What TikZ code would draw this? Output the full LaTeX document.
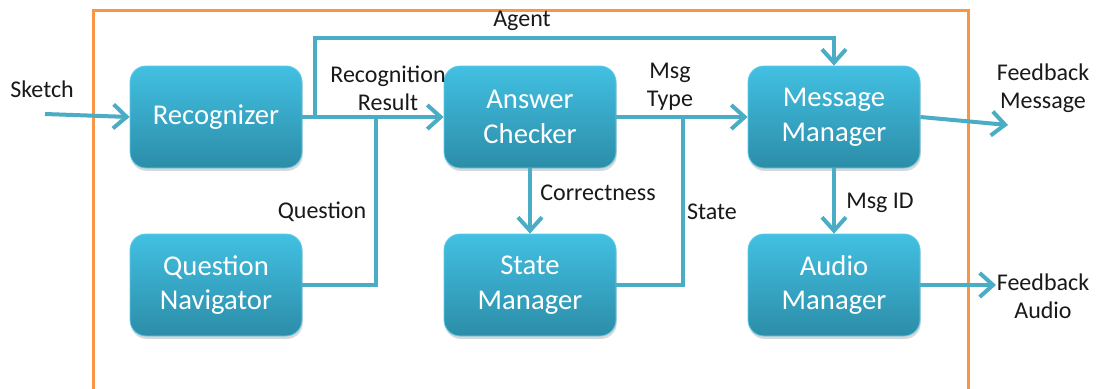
\documentclass[tikz,border=0pt]{standalone}
\usepackage{fontspec}
\setmainfont{Carlito}
\usetikzlibrary{arrows.meta,shadows}

\definecolor{boxtop}{RGB}{66,192,226}
\definecolor{boxbot}{RGB}{44,141,168}
\definecolor{boxedge}{RGB}{92,206,236}
\definecolor{wire}{RGB}{75,172,198}
\definecolor{frame}{RGB}{247,150,70}

\tikzset{
  module/.style={rounded corners=12pt, minimum width=129pt, minimum height=76.5pt,
    inner sep=0pt, align=center, text=white,
    font=\fontsize{21.5}{26}\selectfont,
    top color=boxtop, bottom color=boxbot, draw=boxedge, line width=0.6pt,
    drop shadow={opacity=0.3, shadow xshift=0.6pt, shadow yshift=-2.2pt}},
  lbl/.style={align=center, text=black!90, inner sep=0pt,
    font=\fontsize{18}{21}\selectfont},
  wireline/.style={draw=wire, line width=3pt},
  flow/.style={wireline, -{Straight Barb[length=10pt, width=18pt, line width=3pt]}},
}

\begin{document}
\begin{tikzpicture}[x=0.75pt, y=-0.75pt]
  \clip (0,0) rectangle (1100,389);
  \fill[white] (0,0) rectangle (1100,389);

  % agent boundary (open at the bottom)
  \draw[frame, line width=2.25pt] (93,395) -- (93,10) -- (968,10) -- (968,395);

  % modules
  \node[module] (rec) at (216,117) {Recognizer};
  \node[module] (qn)  at (216,285) {Question\\Navigator};
  \node[module] (ac)  at (530,117) {Answer\\Checker};
  \node[module] (sm)  at (530,285) {State\\Manager};
  \node[module] (mm)  at (834,117) {Message\\Manager};
  \node[module] (am)  at (834,285) {Audio\\Manager};

  % free ends and bends
  \coordinate (sketchin) at (45,114);
  \coordinate (fbm) at (1008,125);
  \coordinate (fba) at (996,285);
  \coordinate (topbend) at (315,38);
  \coordinate (qjoin) at (376,117);
  \coordinate (sjoin) at (683,117);

  % connectors
  \draw[flow] (sketchin) -- (rec.west);
  \draw[flow] (rec.east) -- (ac.west);
  \draw[flow] (rec.east) -| (topbend) -| (mm.north);
  \draw[wireline] (qn.east) -| (qjoin);
  \draw[flow] (ac.east) -- (mm.west);
  \draw[wireline] (sm.east) -| (sjoin);
  \draw[flow] (ac.south) -- (sm.north);
  \draw[flow] (mm.south) -- (am.north);
  \draw[flow] (mm.east) -- (fbm);
  \draw[flow] (am.east) -- (fba);

  % labels
  \node[lbl] (tsketch) at (42,89) {Sketch};
  \node[lbl] (tagent) at (522,21) {Agent};
  \node[lbl] (trec) at (388,88) {Recognition\\Result};
  \node[lbl] (tmsgtype) at (670,87) {Msg\\Type};
  \node[lbl] (tquest) at (322,212) {Question};
  \node[lbl] (tcorr) at (598,193) {Correctness};
  \node[lbl] (tstate) at (712,212) {State};
  \node[lbl] (tmsgid) at (880,203) {Msg ID};
  \node[lbl] (tfbm) at (1043,88) {Feedback\\Message};
  \node[lbl] (tfba) at (1043,296) {Feedback\\Audio};
\end{tikzpicture}
\end{document}
